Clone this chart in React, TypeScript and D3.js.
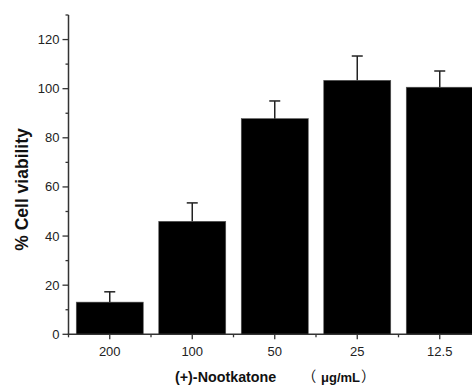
import * as d3 from 'd3';

const categories = ['200', '100', '50', '25', '12.5'];
const means = [13.1, 46.0, 87.8, 103.4, 100.6];
const errors = [4.2, 7.5, 7.2, 9.9, 6.6];
const yTicks = [0, 20, 40, 60, 80, 100, 120];
const yMinorTicks = [10, 30, 50, 70, 90, 110, 130];

const W = 472;
const H = 386;
const axisColor = '#333';
const font = 'Arial, "Liberation Sans", sans-serif';
const cjk = '"Noto Sans CJK SC", sans-serif';

export default function App() {
    const x = d3.scaleBand<string>().domain(categories).range([68.5, 481]).paddingInner(0.188).paddingOuter(0.094);
    const y = d3.scaleLinear().domain([0, 130]).range([334.3, 15]);
    const step = x.step();
    const gap = step * x.paddingInner();
    const x0 = y(0);

    return (
        <svg
            width={W}
            height={H}
            style={{ position: 'absolute', left: 0, top: 0, background: '#fff' }}
            fontFamily={font}
        >
            {/* bars */}
            {categories.map((c, i) => (
                <rect
                    key={c}
                    x={x(c)}
                    y={y(means[i])}
                    width={x.bandwidth()}
                    height={x0 - y(means[i])}
                    fill="#000"
                    stroke="#555"
                    strokeWidth={0.6}
                />
            ))}
            {/* error bars */}
            {categories.map((c, i) => {
                const cx = (x(c) as number) + x.bandwidth() / 2;
                const top = y(means[i] + errors[i]);
                return (
                    <g key={'e' + c} stroke="#222" strokeWidth={1.5}>
                        <line x1={cx} x2={cx} y1={y(means[i])} y2={top} />
                        <line x1={cx - 5.5} x2={cx + 5.5} y1={top} y2={top} />
                    </g>
                );
            })}
            {/* y axis */}
            <line x1={68.5} x2={68.5} y1={y(130)} y2={x0 + 0.5} stroke={axisColor} strokeWidth={1.5} />
            {yTicks.map((t) => (
                <g key={t}>
                    <line x1={62.5} x2={68.5} y1={y(t)} y2={y(t)} stroke={axisColor} strokeWidth={1.3} />
                    <text x={59.5} y={y(t)} dy="0.35em" textAnchor="end" fontSize={13} fill="#222">
                        {t}
                    </text>
                </g>
            ))}
            {yMinorTicks.map((t) => (
                <line key={t} x1={65.5} x2={68.5} y1={y(t)} y2={y(t)} stroke={axisColor} strokeWidth={1.3} />
            ))}
            {/* x axis */}
            <line x1={67.8} x2={W} y1={x0} y2={x0} stroke={axisColor} strokeWidth={1.5} />
            {categories.map((c) => {
                const cx = (x(c) as number) + x.bandwidth() / 2;
                const bx = (x(c) as number) - gap / 2;
                return (
                    <g key={'x' + c}>
                        <line x1={cx} x2={cx} y1={x0} y2={x0 + 5} stroke={axisColor} strokeWidth={1.3} />
                        <line x1={bx} x2={bx} y1={x0} y2={x0 + 3} stroke={axisColor} strokeWidth={1.3} />
                        <text x={cx} y={355.5} textAnchor="middle" fontSize={13} fill="#222">
                            {c}
                        </text>
                    </g>
                );
            })}
            {/* axis titles */}
            <text
                transform={`translate(28,${(127 + 252) / 2}) rotate(-90)`}
                textAnchor="middle"
                fontSize={17.5}
                fontWeight="bold"
                fill="#111"
            >
                % Cell viability
            </text>
            <text y={382} fontSize={14.3} fontWeight="bold" fill="#111">
                <tspan x={175}>(+)-Nootkatone</tspan>
                <tspan x={302} fontFamily={cjk} fontWeight="normal">（</tspan>
                <tspan x={321} fontSize={13}>μg/mL</tspan>
                <tspan x={361} fontFamily={cjk} fontWeight="normal">）</tspan>
            </text>
        </svg>
    );
}
